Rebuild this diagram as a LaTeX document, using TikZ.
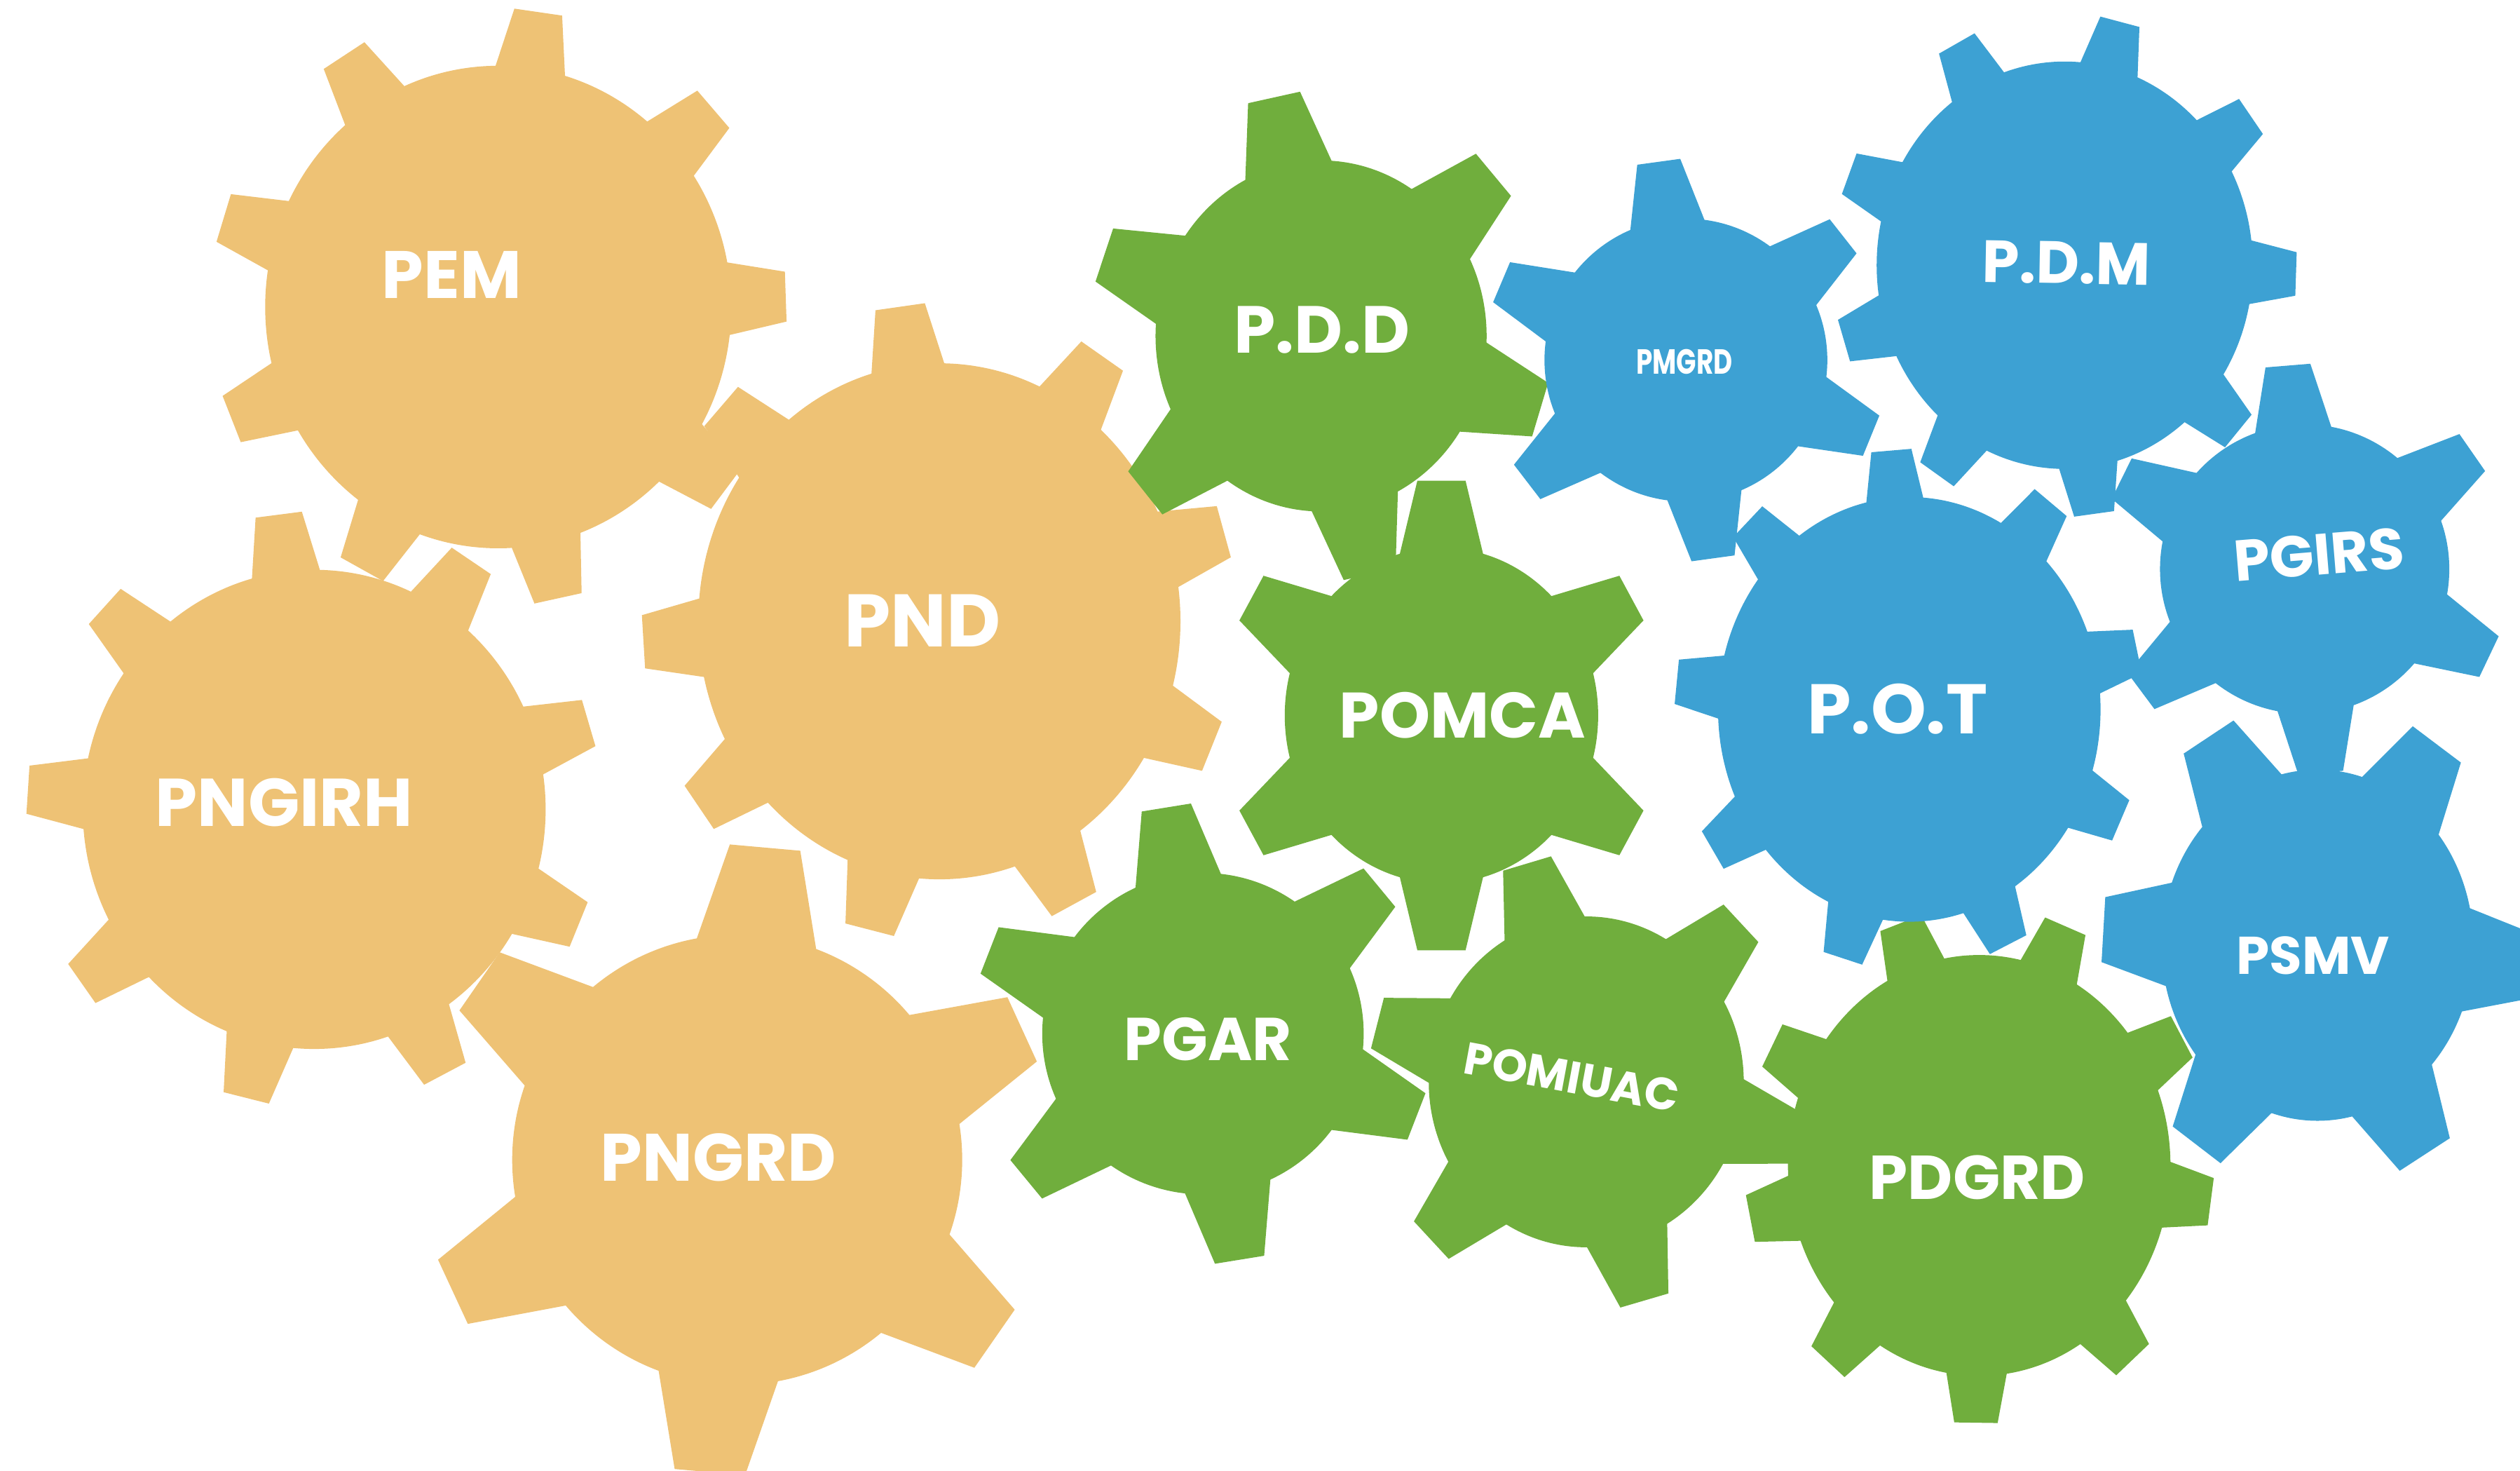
\documentclass[tikz,border=0pt]{standalone}
\usepackage{fontspec}
\newfontfamily\gf{Poppins}
\definecolor{gorange}{RGB}{238,194,117}
\definecolor{ggreen}{RGB}{112,174,61}
\definecolor{gblue}{RGB}{61,161,211}
% #1 cx, #2 cy, #3 yscale, #4 body radius, #5 tip radius, #6 base width, #7 tip width, #8 tooth angles, #9 colour
\newcommand\gearshape[9]{%
  \begin{scope}[shift={(#1,#2)},yscale=#3]
    \fill[#9] (0,0) circle[radius=#4];
    \pgfmathsetmacro\gbw{#6/2+(#6-#7)/2*10/(#5-#4)}
    \pgfmathsetmacro\gbr{#4-10}
    \foreach \a in {#8}{%
      \fill[#9,rotate=\a] (\gbr,-\gbw) -- (#5,-#7/2) -- (#5,#7/2) -- (\gbr,\gbw) -- cycle;}
  \end{scope}}
\tikzset{lbl/.style={text=white,inner sep=0pt,font=\gf\bfseries\fontsize{#1}{#1}\selectfont}}
\begin{document}
\begin{tikzpicture}[x=0.1mm,y=-0.1mm]
\useasboundingbox (0,0) rectangle (1568,915);
\clip (0,0) rectangle (1568,915);
% orange gears
\gearshape{310}{191}{1.035}{145}{179}{43}{30}{82,41.6,2,-37.7,-78,-118.3,-157.9,162.6,122.4}{gorange}
\gearshape{584.5}{386.5}{1.07}{150}{184.5}{45}{31}{97.6,56.7,16.4,-23.2,-63,-103.6,-144.1,-176.3,137.4}{gorange}
\gearshape{195.5}{503.5}{1.035}{144}{178.5}{42}{29}{97.1,56.8,16.9,-22.8,-62.9,-103.7,-144.1,176.2,136.9}{gorange}
\gearshape{458.7}{721.5}{1}{140}{195}{72}{44}{84.9,24.6,-34.8,-95,-155.1,145.3}{gorange}
% green gears
\gearshape{822}{209}{1.06}{103}{143}{53}{33}{101.8,41.4,-17.6,-77.8,-139.9,160.6}{ggreen}
\gearshape{896.9}{445.1}{1.07}{97.5}{136.5}{50}{30}{90,30,-30,-90,-150,150}{ggreen}
\gearshape{748.5}{643}{1}{100}{142.5}{52}{31}{99.2,39.6,-21.2,-80.8,-140.5,158.7}{ggreen}
\gearshape{987}{673}{1.05}{98}{134.5}{50}{31}{105.9,44.3,-14.4,-74.4,-135.8,165}{ggreen}
\gearshape{1231.5}{725}{1.1}{119}{145.5}{37}{27}{109.6,68.4,30,-8.1,-49,-90.8,-130.3,-168.1,152.2}{ggreen}
% blue gears
\gearshape{1049}{224}{1}{88}{124.5}{45}{27}{97.8,38.2,-22.2,-82.2,-142.5,157.1}{gblue}
\gearshape{1284.7}{165}{1.083}{117}{144}{36}{25}{117.8,76.2,36.4,-2,-41.4,-82.7,-123.5,-162.5,158.6}{gblue}
\gearshape{1434}{354}{1}{90}{127}{46}{28}{94.7,34.8,-25.4,-85.5,-143.3,153.7}{gblue}
\gearshape{1188}{441.3}{1.11}{119}{145.5}{35}{25}{94.4,52.8,12.9,-25.3,-65,-106.5,-147.2,173.9,133.7}{gblue}
\gearshape{1442}{588}{1.126}{97}{133.5}{55}{36}{120.5,56.2,-5,-60,-124.3,176.3}{gblue}
% labels
\node[lbl=4.17mm] (pem) at (281,171) {PEM};
\node[lbl=4.63mm] (pnd) at (574,386) {PND};
\node[lbl=4.2mm] (pngirh) at (176.8,499.2) {PNGIRH};
\node[lbl=4.17mm] (pngrd) at (447,720) {PNGRD};
\node[lbl=4.14mm] (pdd) at (822.6,205.2) {P.D.D};
\node[lbl=4.0mm] (pomca) at (910,445) {POMCA};
\node[lbl=3.76mm] (pgar) at (751.7,646.3) {PGAR};
\node[lbl=2.8mm,rotate=-10.5] (pomiuac) at (978,670) {POMIUAC};
\node[lbl=3.85mm] (pdgrd) at (1230.4,732.5) {PDGRD};
\node[lbl=2.17mm,xscale=0.75] (pmgrd) at (1048,225) {PMGRD};
\node[lbl=3.7mm,rotate=-1] (pdm) at (1285.8,163.5) {P.D.M};
\node[lbl=4.37mm] (pot) at (1180.6,441.2) {P.O.T};
\node[lbl=3.6mm,rotate=4.7] (pgirs) at (1443,345) {PGIRS};
\node[lbl=3.3mm] (psmv) at (1439.3,594.5) {PSMV};
\end{tikzpicture}
\end{document}
